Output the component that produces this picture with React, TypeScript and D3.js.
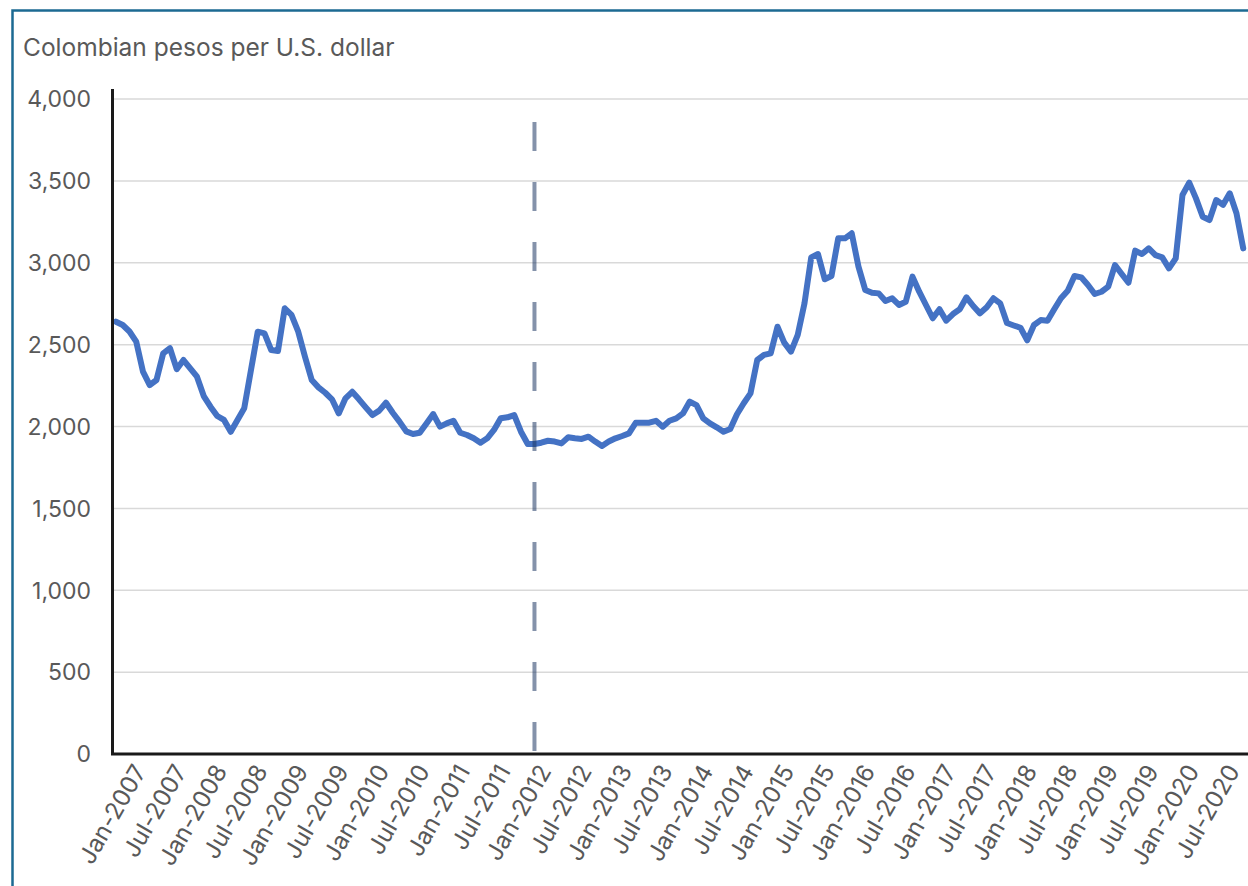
import React from "react";
import * as d3 from "d3";

const YEARS = [2007, 2008, 2009, 2010, 2011, 2012, 2013, 2014, 2015, 2016, 2017, 2018, 2019, 2020];
const MONTHS = ["Jan", "Feb", "Mar", "Apr", "May", "Jun", "Jul", "Aug", "Sep", "Oct", "Nov", "Dec"];
const CATEGORIES: string[] = YEARS.flatMap((y) => MONTHS.map((m) => `${m}-${y}`));

const VALUES = [
  2640, 2620, 2580, 2518, 2335, 2253, 2284, 2447, 2478, 2350, 2406, 2355,
  2304, 2186, 2121, 2064, 2040, 1968, 2040, 2111, 2345, 2579, 2569, 2467,
  2461, 2722, 2681, 2579, 2426, 2284, 2239, 2206, 2166, 2080, 2172, 2212,
  2166, 2117, 2070, 2097, 2145, 2084, 2030, 1970, 1954, 1962, 2019, 2076,
  1999, 2019, 2035, 1962, 1948, 1928, 1901, 1928, 1979, 2050, 2056, 2070,
  1968, 1893, 1893, 1901, 1913, 1908, 1897, 1934, 1928, 1924, 1938, 1908,
  1881, 1908, 1928, 1942, 1958, 2023, 2023, 2023, 2035, 1999, 2035, 2050,
  2080, 2152, 2131, 2050, 2019, 1995, 1968, 1985, 2075, 2142, 2202, 2406,
  2437, 2447, 2609, 2512, 2457, 2559, 2752, 3033, 3053, 2899, 2919, 3149,
  3149, 3180, 2976, 2834, 2817, 2813, 2766, 2783, 2742, 2762, 2915, 2823,
  2742, 2661, 2716, 2646, 2687, 2716, 2789, 2736, 2691, 2728, 2783, 2752,
  2632, 2617, 2603, 2526, 2620, 2650, 2646, 2716, 2783, 2829, 2919, 2911,
  2864, 2809, 2823, 2854, 2986, 2931, 2878, 3074, 3053, 3088, 3047, 3033,
  2966, 3027, 3414, 3489, 3393, 3281, 3261, 3383, 3353, 3424, 3302, 3088,
];

const TICK_LABELS = [
  "Jan-2007", "Jul-2007", "Jan-2008", "Jul-2008", "Jan-2009", "Jul-2009", "Jan-2010",
  "Jul-2010", "Jan-2011", "Jul-2011", "Jan-2012", "Jul-2012", "Jan-2013", "Jul-2013",
  "Jan-2014", "Jul-2014", "Jan-2015", "Jul-2015", "Jan-2016", "Jul-2016", "Jan-2017",
  "Jul-2017", "Jan-2018", "Jul-2018", "Jan-2019", "Jul-2019", "Jan-2020", "Jul-2020",
];

const Y_TICKS = [0, 500, 1000, 1500, 2000, 2500, 3000, 3500, 4000];
const MARKER_MONTH = "Mar-2012";
const MARKER_TOP = 3860;
const TITLE = "Colombian pesos per U.S. dollar";

const FONT = "Inter, 'Noto Sans', sans-serif";
const W = 1248;
const H = 886;
const left = 112.6;
const right = 1246.6;
const top = 99;
const bottom = 754;

export default function App() {
  const x = d3.scaleBand<string>().domain(CATEGORIES).range([left, right]).paddingInner(0).paddingOuter(0);
  const cx = (c: string) => (x(c) as number) + x.bandwidth() / 2;
  const y = d3.scaleLinear().domain([0, 4000]).range([bottom, top]);

  const line = d3
    .line<number>()
    .x((_, i) => cx(CATEGORIES[i]))
    .y((d) => y(d));

  const mx = cx(MARKER_MONTH);

  return (
    <svg
      width={W}
      height={H}
      style={{ position: "absolute", left: 0, top: 0, background: "#fff" }}
      fontFamily={FONT}
    >
      <rect x={0} y={0} width={W} height={H} fill="#fff" />
      <path d={`M12.5,${H} L12.5,10.5 L${W},10.5`} fill="none" stroke="#1c6a92" strokeWidth={2.5} />
      <text x={23} y={56} fontSize={24.5} fill="#595959">
        {TITLE}
      </text>

      {Y_TICKS.map((t) => (
        <g key={t}>
          {t > 0 && (
            <line x1={left} x2={W} y1={y(t)} y2={y(t)} stroke="#d9d9d9" strokeWidth={1.5} />
          )}
          <text x={91} y={y(t)} dy="0.36em" textAnchor="end" fontSize={23} fill="#595959">
            {d3.format(",")(t)}
          </text>
        </g>
      ))}

      <path d={line(VALUES) || ""} fill="none" stroke="#4472c4" strokeWidth={6} strokeLinejoin="round" strokeLinecap="round" />

      <line
        x1={mx}
        x2={mx}
        y1={y(MARKER_TOP)}
        y2={y(0)}
        stroke="#1f3864"
        strokeOpacity={0.55}
        strokeWidth={4}
        strokeDasharray="29 31"
      />

      <line x1={112.5} x2={112.5} y1={89} y2={755} stroke="#1a1a1a" strokeWidth={3} />
      <line x1={111} x2={W} y1={754} y2={754} stroke="#1a1a1a" strokeWidth={3} />

      {TICK_LABELS.map((lab) => {
        const tx = cx(lab) + 31;
        const ty = 771;
        return (
          <text
            key={lab}
            transform={`translate(${tx},${ty}) rotate(-60)`}
            textAnchor="end"
            fontSize={24}
            fill="#595959"
          >
            {lab}
          </text>
        );
      })}
    </svg>
  );
}
